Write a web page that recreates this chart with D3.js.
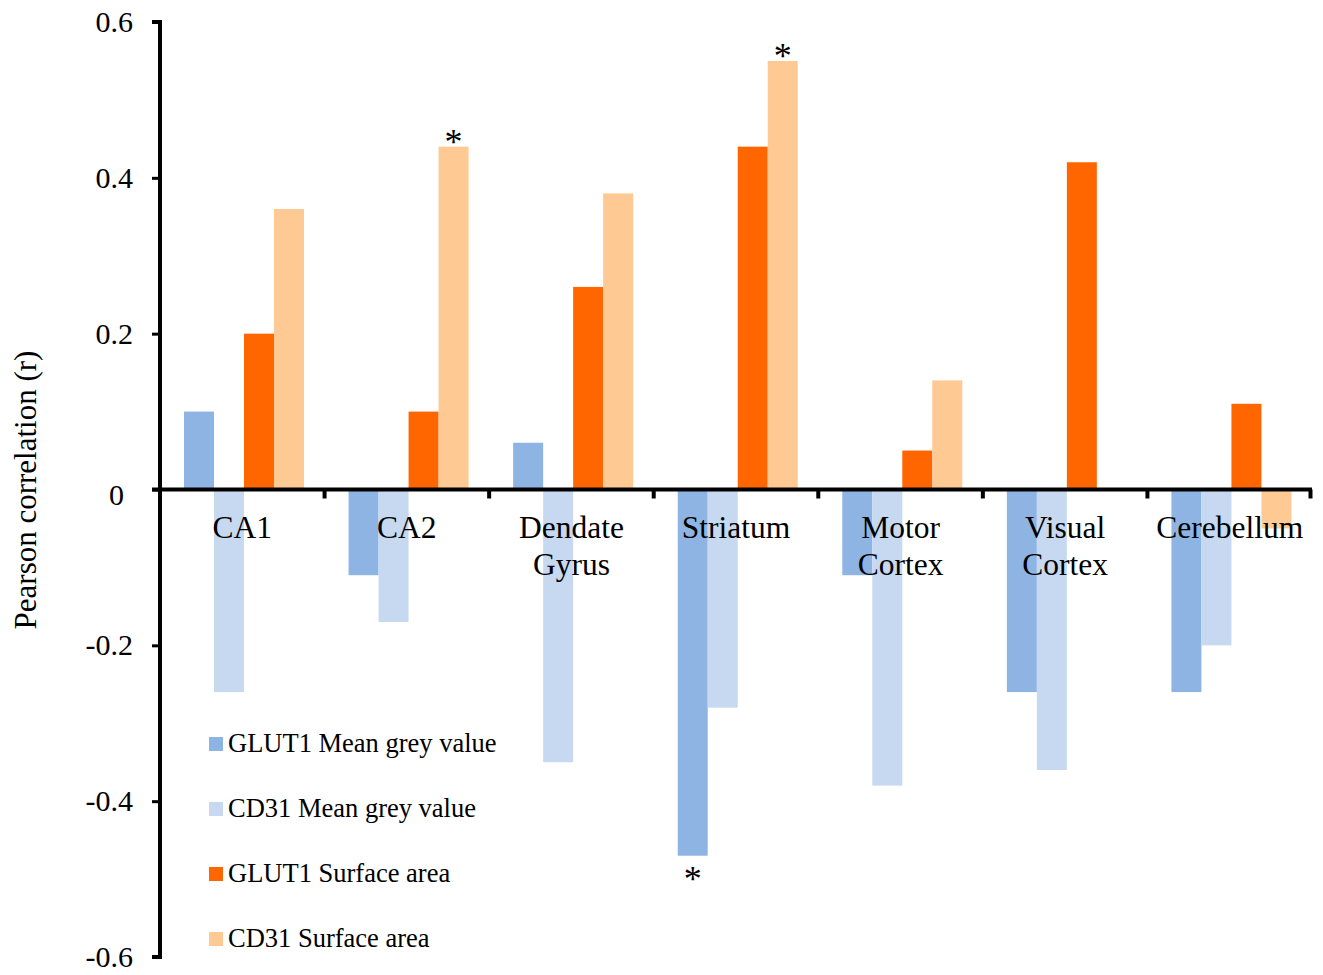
<!DOCTYPE html>
<html>
<head>
<meta charset="utf-8">
<script src="https://cdn.jsdelivr.net/npm/d3@7"></script>
<style>
    body { margin: 0; background: #fff; }
    text { font-family: "Liberation Serif", "Times New Roman", serif; fill: #000; }
</style>
</head>
<body>
<svg id="chart" width="1323" height="975"></svg>
<script>
// regions along the x axis
var regions = [["CA1"], ["CA2"], ["Dendate", "Gyrus"], ["Striatum"], ["Motor", "Cortex"], ["Visual", "Cortex"], ["Cerebellum"]];
var seriesNames = ["GLUT1 Mean grey value", "CD31 Mean grey value", "GLUT1 Surface area", "CD31 Surface area"];
var seriesColors = ["#8eb4e3", "#c6d9f1", "#ff6600", "#ffc994"];

var glut1Grey = [0.10, -0.11, 0.06, -0.47, -0.11, -0.26, -0.26];
var cd31Grey = [-0.26, -0.17, -0.35, -0.28, -0.38, -0.36, -0.20];
var glut1Area = [0.20, 0.10, 0.26, 0.44, 0.05, 0.42, 0.11];
var cd31Area = [0.36, 0.44, 0.38, 0.55, 0.14, 0, -0.05];

var yTicks = [-0.6, -0.4, -0.2, 0, 0.2, 0.4, 0.6];

// significant bars: [region index, series index]
var stars = [[1, 3], [3, 3], [3, 0]];

var allSeries = [glut1Grey, cd31Grey, glut1Area, cd31Area];

var svg = d3.select("#chart");

var x = d3.scaleBand()
        .domain(d3.range(regions.length))
        .range([160, 1312])
        .paddingInner(0)
        .paddingOuter(0);

var xSub = d3.scaleBand()
        .domain(d3.range(seriesNames.length))
        .range([24, 144]);

var y = d3.scaleLinear()
        .domain([-0.6, 0.6])
        .range([957, 22]);

// bars
allSeries.forEach(function(vals, s) {
    svg.append("g").selectAll("rect")
            .data(vals)
            .enter().append("rect")
            .attr("x", function(d, i) { return x(i) + xSub(s); })
            .attr("width", xSub.bandwidth())
            .attr("y", function(d) { return y(Math.max(0, d)); })
            .attr("height", function(d) { return Math.abs(y(d) - y(0)); })
            .style("fill", seriesColors[s]);
});

// stars
svg.append("g").selectAll("text")
        .data(stars)
        .enter().append("text")
        .attr("x", function(d) { return x(d[0]) + xSub(d[1]) + xSub.bandwidth() / 2; })
        .attr("y", function(d) {
            var v = allSeries[d[1]][d[0]];
            return v >= 0 ? y(v) + 7 : y(v) + 35;
        })
        .attr("text-anchor", "middle")
        .style("font-size", "36px")
        .text("*");

// y axis
var yAxis = d3.axisLeft(y)
        .tickValues(yTicks)
        .tickSize(8)
        .tickFormat(function(d) { return d === 0 ? "0" : d3.format(".1f")(d).replace("\u2212", "-"); });

var gy = svg.append("g")
        .attr("transform", "translate(160,0)")
        .call(yAxis);
gy.select(".domain").attr("stroke", "#000").attr("stroke-width", 4).attr("d", "M-8,22H0V957H-8");
gy.selectAll(".tick line").attr("stroke", "#000").attr("stroke-width", 3);
gy.selectAll(".tick text")
        .attr("x", function(d) { return d === 0 ? -36 : -27; })
        .attr("y", function(d) { return d === 0 ? 5 : 0; })
        .style("font-family", "Liberation Serif")
        .style("font-size", "30px")
        .style("fill", "#000");

// x axis at zero
var gx = svg.append("g").attr("transform", "translate(0," + y(0) + ")");
gx.append("line")
        .attr("x1", 152).attr("x2", 1312)
        .attr("stroke", "#000").attr("stroke-width", 4);
gx.selectAll(".xt")
        .data(d3.range(regions.length + 1))
        .enter().append("line")
        .attr("x1", function(i) { return i < regions.length ? x(i) : x.range()[1] - 1.5; })
        .attr("x2", function(i) { return i < regions.length ? x(i) : x.range()[1] - 1.5; })
        .attr("y1", 0).attr("y2", 9)
        .attr("stroke", "#000").attr("stroke-width", 4);

// category labels
var lbl = svg.append("g").selectAll("text")
        .data(regions)
        .enter().append("text")
        .attr("text-anchor", "middle")
        .attr("x", function(d, i) { return x(i) + x.bandwidth() / 2; })
        .attr("y", 538)
        .style("font-size", "31.5px");
lbl.selectAll("tspan")
        .data(function(d) { return d; })
        .enter().append("tspan")
        .attr("x", function() { return d3.select(this.parentNode).attr("x"); })
        .attr("dy", function(d, j) { return j === 0 ? 0 : 37; })
        .text(function(d) { return d; });

// y axis title
svg.append("text")
        .attr("transform", "translate(36,490) rotate(-90)")
        .attr("text-anchor", "middle")
        .style("font-size", "31px")
        .text("Pearson correlation (r)");

// legend
var legend = svg.append("g").selectAll("g")
        .data(seriesNames)
        .enter().append("g")
        .attr("transform", function(d, i) { return "translate(209," + (744 + i * 65) + ")"; });
legend.append("rect")
        .attr("x", 0).attr("y", -7)
        .attr("width", 14).attr("height", 14)
        .style("fill", function(d, i) { return seriesColors[i]; });
legend.append("text")
        .attr("x", 19).attr("y", 8)
        .style("font-size", "26.5px")
        .text(function(d) { return d; });
</script>
</body>
</html>
